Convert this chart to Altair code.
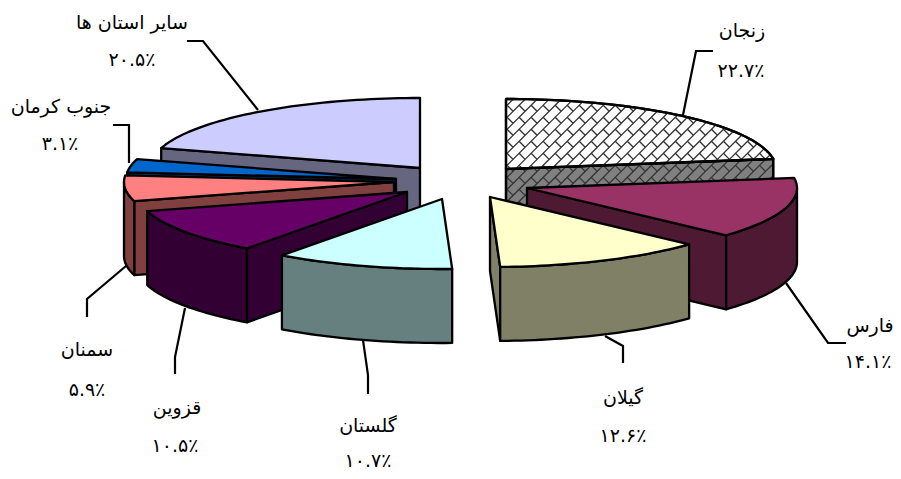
import math
import altair as alt
import pandas as pd

names = ["زنجان", "فارس", "گیلان", "گلستان", "قزوین", "سمنان", "جنوب کرمان", "سایر استان ها"]
shares = [22.7, 14.1, 12.6, 10.7, 10.5, 5.9, 3.1, 20.5]
share_labels = ["۲۲.۷٪", "۱۴.۱٪", "۱۲.۶٪", "۱۰.۷٪", "۱۰.۵٪", "۵.۹٪", "۳.۱٪", "۲۰.۵٪"]
top_colors = ["#FFFFFF", "#993366", "#FFFFCC", "#CCFFFF", "#660066", "#FF8080", "#0066CC", "#CCCCFF"]
side_colors = ["#808080", "#4D1933", "#808066", "#668080", "#330033", "#804040", "#003366", "#666680"]
apex_x = [506, 527, 490, 442, 407, 394, 396, 420]
apex_y = [169, 188, 197, 199, 192, 182, 179, 168]
paint_order = [0, 7, 6, 5, 4, 3, 1, 2]
RX, RY, DEPTH = 270, 70, 74

name_x = [742, 870, 623, 368, 177, 87, 61, 132]
name_y = [31, 326, 398, 426, 408, 350, 107, 23]
pct_x = [741, 868, 623, 368, 175, 87, 60, 132]
pct_y = [71, 362, 436, 461, 446, 390, 144, 60]

leader_x = [[683, 696, 713], [786, 828, 846], [605, 623, 623], [363, 368, 368],
            [185, 175, 175], [126, 87, 87], [129, 129, 113], [258, 203, 187]]
leader_y = [[115, 51, 51], [283, 343, 343], [336, 346, 363], [340, 375, 394],
            [308, 357, 374], [266, 299, 317], [163, 125, 125], [110, 41, 41]]

X = alt.X("x:Q", scale=alt.Scale(domain=[8, 893]), axis=None)
Y = alt.Y("y:Q", scale=alt.Scale(domain=[471, 8]), axis=None)


def poly(pts, fill=None, stroke="black", sw=2.3):
    df = pd.DataFrame({"x": [p[0] for p in pts], "y": [p[1] for p in pts], "i": range(len(pts))})
    kw = dict(interpolate="linear-closed", stroke=stroke, strokeWidth=sw, strokeJoin="round")
    kw["fill"] = fill if fill else "transparent"
    return alt.Chart(df).mark_line(**kw).encode(x=X, y=Y, order="i:Q")


def rim(ax, ay, deg, dy=0):
    a = math.radians(deg)
    return (ax + RX * math.sin(a), ay - RY * math.cos(a) + dy)


def arc(ax, ay, a0, a1, dy=0, step=1.5):
    n = max(2, int(abs(a1 - a0) / step) + 1)
    return [rim(ax, ay, a0 + (a1 - a0) * k / n, dy) for k in range(n + 1)]


def clip_segment(p, q, pts):
    area = sum(pts[i][0] * pts[(i + 1) % len(pts)][1] - pts[(i + 1) % len(pts)][0] * pts[i][1] for i in range(len(pts)))
    sgn = 1 if area > 0 else -1
    t0, t1 = 0.0, 1.0
    dx, dy = q[0] - p[0], q[1] - p[1]
    for i in range(len(pts)):
        a, b = pts[i], pts[(i + 1) % len(pts)]
        ex, ey = b[0] - a[0], b[1] - a[1]
        nx, ny = -ey * sgn, ex * sgn
        den = nx * dx + ny * dy
        num = nx * (p[0] - a[0]) + ny * (p[1] - a[1])
        if abs(den) < 1e-9:
            if num < 0:
                return None
            continue
        t = -num / den
        if den > 0:
            t0 = max(t0, t)
        else:
            t1 = min(t1, t)
    if t0 >= t1:
        return None
    return (p[0] + t0 * dx, p[1] + t0 * dy), (p[0] + t1 * dx, p[1] + t1 * dy)


def hatch(pts):
    s, brick = 8.5, 17.0
    r = math.sqrt(0.5)
    u_dir, v_dir = (r, -r), (r, r)
    rows = []
    for k in range(-20, 100):
        v = 300 + k * s
        cx, cy = 640 + (v - 300) * v_dir[0] - 120 * v_dir[0], 130 + (v - 300) * v_dir[1] - 120 * v_dir[1]
        a = (cx - 500 * u_dir[0], cy - 500 * u_dir[1])
        b = (cx + 500 * u_dir[0], cy + 500 * u_dir[1])
        seg = clip_segment(a, b, pts)
        if seg:
            rows.append((*seg[0], *seg[1]))
        for m in range(-40, 40):
            u = (m + (k % 2) / 2) * brick
            p = (cx + u * u_dir[0], cy + u * u_dir[1])
            q = (p[0] + s * v_dir[0], p[1] + s * v_dir[1])
            seg = clip_segment(p, q, pts)
            if seg:
                rows.append((*seg[0], *seg[1]))
    df = pd.DataFrame(rows, columns=["x", "y", "x2", "y2"])
    return alt.Chart(df).mark_rule(stroke="#333333", strokeWidth=1.3).encode(x=X, y=Y, x2="x2:Q", y2="y2:Q")


layers = []
starts, acc = [], 0.0
for v in shares:
    starts.append(acc * 3.6)
    acc += v

for i in paint_order:
    ax, ay = apex_x[i], apex_y[i]
    a0, a1 = starts[i], min(360.0, starts[i] + shares[i] * 3.6)
    face = None
    if a1 <= 180:
        face = a1
    elif a0 >= 180:
        face = a0
    if face is not None:
        e = rim(ax, ay, face)
        pts = [(ax, ay), e, (e[0], e[1] + DEPTH), (ax, ay + DEPTH)]
        layers.append(poly(pts, side_colors[i]))
        if i == 0:
            layers.append(hatch(pts))
            layers.append(poly(pts))
    w0, w1 = max(a0, 90), min(a1, 270)
    if w0 < w1:
        pts = arc(ax, ay, w0, w1) + arc(ax, ay, w1, w0, DEPTH)
        layers.append(poly(pts, side_colors[i]))
    top = [(ax, ay)] + arc(ax, ay, a0, a1)
    layers.append(poly(top, top_colors[i]))
    if i == 0:
        layers.append(hatch(top))
        layers.append(poly(top))

for lx, ly in zip(leader_x, leader_y):
    df = pd.DataFrame({"x": lx, "y": ly, "i": range(len(lx))})
    layers.append(alt.Chart(df).mark_line(stroke="black", strokeWidth=2.2, strokeJoin="miter").encode(x=X, y=Y, order="i:Q"))

labels = pd.DataFrame({
    "x": name_x + pct_x,
    "y": name_y + pct_y,
    "t": names + share_labels,
})
layers.append(
    alt.Chart(labels).mark_text(font="DejaVu Sans", fontSize=19, color="black", align="center", baseline="middle")
    .encode(x=X, y=Y, text="t:N")
)

chart = alt.layer(*layers).properties(
    width=885, height=463, padding=0, autosize=alt.AutoSizeParams(type="none"), background="white"
).configure_view(stroke=None)

chart.save("out.html", embed_options={"renderer": "svg", "actions": False})
